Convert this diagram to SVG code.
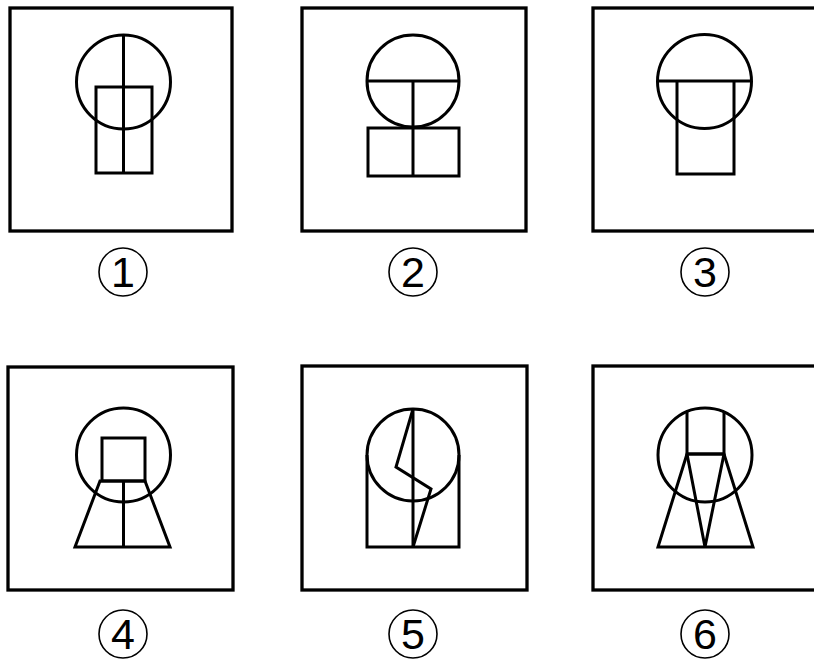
<svg xmlns="http://www.w3.org/2000/svg" width="814" height="669" viewBox="0 0 814 669">
<style>
.box{fill:none;stroke:#000;stroke-width:3.3}
.fig{fill:none;stroke:#000;stroke-width:3;stroke-linejoin:miter}
.lc{fill:none;stroke:#000;stroke-width:1.6}
.lt{font-family:"Liberation Sans",Arial,sans-serif;font-size:43px;fill:#000;text-anchor:middle}
</style>
<rect width="814" height="669" fill="#fff"/>
<g id="panel1">
<rect class="box" x="10" y="8" width="222" height="223"/>
<circle class="fig" cx="123.5" cy="82" r="47"/>
<rect class="fig" x="96" y="87" width="56" height="86"/>
<line class="fig" x1="123.5" y1="35" x2="123.5" y2="173"/>
<circle class="lc" cx="123" cy="272" r="24"/>
<text class="lt" x="123" y="287">1</text>
</g>
<g id="panel2">
<rect class="box" x="302" y="8" width="224" height="223"/>
<circle class="fig" cx="413" cy="81" r="46"/>
<line class="fig" x1="367" y1="81" x2="459" y2="81"/>
<rect class="fig" x="368" y="128" width="91" height="48"/>
<line class="fig" x1="413" y1="81" x2="413" y2="176"/>
<circle class="lc" cx="413" cy="272" r="24"/>
<text class="lt" x="413" y="287">2</text>
</g>
<g id="panel3">
<rect class="box" x="593" y="8" width="224" height="223"/>
<circle class="fig" cx="704.5" cy="81.5" r="47"/>
<line class="fig" x1="657.5" y1="81" x2="751.5" y2="81"/>
<polyline class="fig" points="677,81 677,174 734,174 734,81"/>
<circle class="lc" cx="705" cy="272" r="24"/>
<text class="lt" x="705" y="287">3</text>
</g>
<g id="panel4">
<rect class="box" x="8" y="367" width="225" height="223"/>
<circle class="fig" cx="123.5" cy="455" r="47"/>
<rect class="fig" x="102" y="438" width="43" height="43"/>
<polygon class="fig" points="100,481 145,481 170,547 75,547"/>
<line class="fig" x1="123.5" y1="481" x2="123.5" y2="547"/>
<circle class="lc" cx="123" cy="634" r="24"/>
<text class="lt" x="123" y="649">4</text>
</g>
<g id="panel5">
<rect class="box" x="302" y="366" width="225" height="224"/>
<circle class="fig" cx="413" cy="455" r="46"/>
<polyline class="fig" points="367,455 367,547 459,547 459,455"/>
<line class="fig" x1="413" y1="409" x2="413" y2="547"/>
<polyline class="fig" points="413,409 396,467 431,489 413,547"/>
<circle class="lc" cx="413" cy="634" r="24"/>
<text class="lt" x="413" y="649">5</text>
</g>
<g id="panel6">
<rect class="box" x="593" y="366" width="224" height="224"/>
<circle class="fig" cx="705" cy="455" r="47"/>
<polyline class="fig" points="687,411.5 687,454 724,454 724,411"/>
<polygon class="fig" points="687,454 658,547 753,547 724,454"/>
<polyline class="fig" points="687,454 705,547 724,454"/>
<circle class="lc" cx="705" cy="634" r="24"/>
<text class="lt" x="705" y="649">6</text>
</g>
</svg>
